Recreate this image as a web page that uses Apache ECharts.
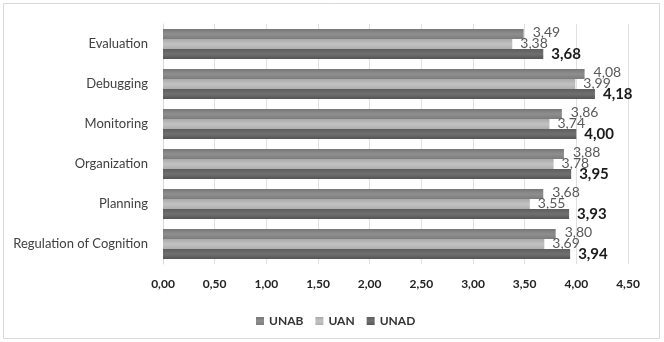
<!DOCTYPE html>
<html><head><meta charset="utf-8">
<script src="https://cdn.jsdelivr.net/npm/echarts@6/dist/echarts.min.js"></script>
<style>html,body{margin:0;padding:0;background:#fff}#c{width:664px;height:342px}</style>
</head><body><div id="c"></div>
<script>
var categories = ['Regulation of Cognition','Planning','Organization','Monitoring','Debugging','Evaluation'];
var unab = [3.80, 3.68, 3.88, 3.86, 4.08, 3.49];
var uan  = [3.69, 3.55, 3.78, 3.74, 3.99, 3.38];
var unad = [3.94, 3.93, 3.95, 4.00, 4.18, 3.68];
var xTicks = ['0,00','0,50','1,00','1,50','2,00','2,50','3,00','3,50','4,00','4,50'];

function grad(a,b,c){
  return new echarts.graphic.LinearGradient(0,0,0,1,[{offset:0,color:a},{offset:0.5,color:b},{offset:1,color:c}]);
}
function fmt(p){return p.value.toFixed(2).replace('.',',');}
var font = 'Lato, "Open Sans", sans-serif';
var chart = echarts.init(document.getElementById('c'));
chart.setOption({
  animation:false,
  textStyle:{fontFamily:font},
  graphic:[{type:'rect',shape:{x:3.5,y:3.5,width:656,height:335},style:{fill:'none',stroke:'#d9d9d9',lineWidth:1},silent:true}],
  grid:{left:163,right:36,top:24,bottom:78},
  legend:{
    data:['UNAB','UAN','UNAD'],
    left:251, top:310, itemWidth:8, itemHeight:8, itemGap:12,
    icon:'rect',
    textStyle:{fontFamily:font,fontSize:12,color:'#333',fontWeight:'bold'}
  },
  xAxis:{
    type:'value', min:0, max:4.5, interval:0.5,
    axisLine:{show:false}, axisTick:{show:false},
    splitLine:{lineStyle:{color:'#dde0e8'}},
    axisLabel:{margin:14,fontFamily:font,fontSize:12,fontWeight:'bold',color:'#222',
      formatter:function(v){return xTicks[Math.round(v/0.5)];}}
  },
  yAxis:{
    type:'category', data:categories,
    axisLine:{show:true,lineStyle:{color:'#d9d9d9'}}, axisTick:{show:false},
    axisLabel:{margin:15,fontFamily:font,fontSize:13,color:'#404040'}
  },
  series:[
    {name:'UNAB',type:'bar',data:unab,barWidth:10,barGap:'0%',
     itemStyle:{color:grad('#777777','#8e8e8e','#7c7c7c')},
     label:{show:true,position:'right',distance:9,offset:[0,-2],formatter:fmt,fontFamily:font,fontSize:14,color:'#595959'}},
    {name:'UAN',type:'bar',data:uan,barWidth:10,barGap:'0%',
     itemStyle:{color:grad('#a9a9a9','#c2c2c2','#b0b0b0')},
     label:{show:true,position:'right',distance:8,offset:[0,-1],formatter:fmt,fontFamily:font,fontSize:14,color:'#595959'}},
    {name:'UNAD',type:'bar',data:unad,barWidth:10,barGap:'0%',
     itemStyle:{color:grad('#5e5e5e','#707070','#555555')},
     label:{show:true,position:'right',distance:8,offset:[0,0],formatter:fmt,fontFamily:font,fontSize:15,fontWeight:'bold',color:'#1a1a1a'}}
  ]
});
</script></body></html>
